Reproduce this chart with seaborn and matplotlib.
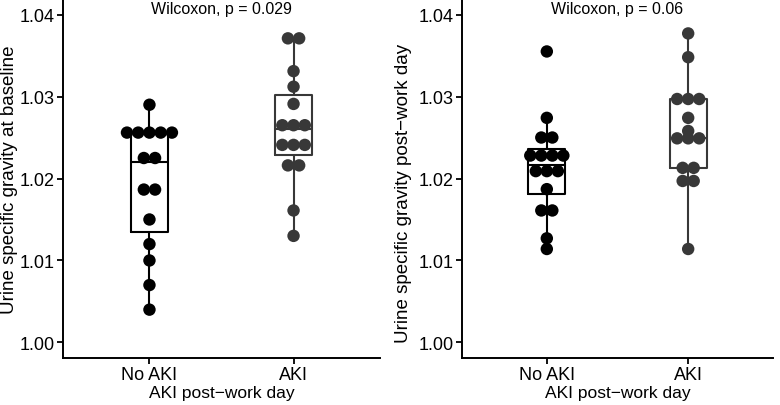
import numpy as np
import pandas as pd
import seaborn as sns
from matplotlib import pyplot as plt

groups = ["No AKI", "AKI"]
colors = ["#000000", "#383838"]

# urine specific gravity
baseline_no_aki = [1.004, 1.007, 1.010, 1.012, 1.015, 1.0185, 1.0188, 1.022, 1.023,
                   1.0256, 1.0256, 1.0256, 1.0256, 1.0256, 1.029]
baseline_aki = [1.013, 1.0161, 1.0216, 1.0216, 1.0241, 1.0241, 1.0241, 1.026, 1.026,
                1.0270, 1.0291, 1.0312, 1.0331, 1.0371, 1.0371]
postwork_no_aki = [1.0114, 1.0127, 1.0161, 1.0161, 1.0187, 1.0209, 1.0209, 1.0209,
                   1.0224, 1.0224, 1.0224, 1.0232, 1.025, 1.025, 1.0274, 1.0355]
postwork_aki = [1.0114, 1.0197, 1.0197, 1.0213, 1.0213, 1.0249, 1.0249, 1.0249, 1.0258,
                1.0274, 1.0297, 1.0297, 1.0297, 1.0348, 1.0377]

panels = [
    ("Urine specific gravity at baseline", baseline_no_aki, baseline_aki, "0.029"),
    ("Urine specific gravity post\u2212work day", postwork_no_aki, postwork_aki, "0.06"),
]

sns.set_theme(style="ticks")
plt.rcParams['font.family'] = ['Liberation Sans', 'DejaVu Sans']


def dot_stack(vals, binwidth, step=0.078):
    # rough copy of ggplot's dotdensity binning, stacked from the centre
    vals = np.sort(np.asarray(vals))
    ys = np.empty(len(vals))
    offs = np.empty(len(vals))
    i = 0
    while i < len(vals):
        j = i
        while j < len(vals) and vals[j] < vals[i] + binwidth:
            j += 1
        n = j - i
        ys[i:j] = (vals[i] + vals[j - 1]) / 2
        offs[i:j] = (np.arange(n) - (n - 1) / 2) * step
        i = j
    return ys, offs


fig = plt.figure(figsize=(7.8, 4.06), dpi=100)
boxes = [[63 / 780, 1 - 359 / 406, 317 / 780, 359 / 406],
         [462 / 780, 1 - 359 / 406, 311 / 780, 359 / 406]]
ylabel_pos = [(-0.142, 0.50), (-0.162, 0.462)]

for rect, lab_xy, (ylab, no_aki, aki, p) in zip(boxes, ylabel_pos, panels):
    ax = fig.add_axes(rect)
    df = pd.DataFrame({
        'group': [groups[0]] * len(no_aki) + [groups[1]] * len(aki),
        'value': no_aki + aki,
    })
    sns.boxplot(data=df, x='group', y='value', hue='group', order=groups,
                hue_order=groups, palette=colors, fill=False, width=0.26,
                showcaps=False, showfliers=False, linewidth=1.5, legend=False, ax=ax)

    binwidth = (df.value.max() - df.value.min()) / 30
    rows = []
    for k, vals in enumerate([no_aki, aki]):
        ys, offs = dot_stack(vals, binwidth)
        for y, o in zip(ys, offs):
            rows.append({'xpos': k + o, 'y': y, 'group': groups[k]})
    dots = pd.DataFrame(rows)
    sns.scatterplot(data=dots, x='xpos', y='y', hue='group', hue_order=groups,
                    palette=colors, s=80, linewidth=0, legend=False, ax=ax, zorder=3)

    ax.text(0.5, 1.0407, f"Wilcoxon, p = {p}", ha='center', va='center',
            fontsize=11.5, color='black')

    ax.set_xlim(-0.6, 1.6)
    ax.set_ylim(0.9981, 1.0419)
    ax.set_xticks([0, 1])
    ax.set_xticklabels(groups)
    ax.set_yticks([1.00, 1.01, 1.02, 1.03, 1.04])
    ax.set_yticklabels([f"{t:.2f}" for t in [1.00, 1.01, 1.02, 1.03, 1.04]])
    ax.set_xlabel("AKI post\u2212work day", fontsize=12.5, color='black', labelpad=1)
    ax.set_ylabel(ylab, fontsize=13.5, color='black')
    ax.yaxis.set_label_coords(*lab_xy)
    ax.tick_params(length=4, width=1.3, color='black', labelsize=13,
                   labelcolor='black', pad=2)
    for side in ['top', 'right']:
        ax.spines[side].set_visible(False)
    for side in ['left', 'bottom']:
        ax.spines[side].set_linewidth(1.4)
        ax.spines[side].set_color('black')

fig.savefig("out.png", dpi=100)
